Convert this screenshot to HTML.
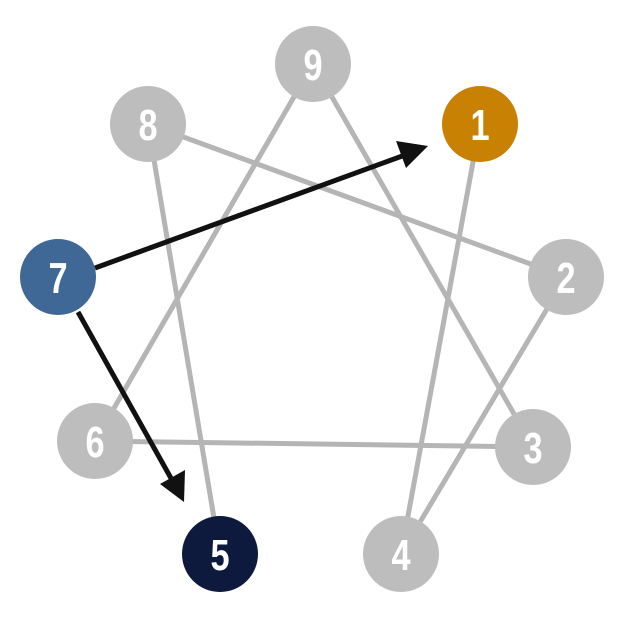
<!DOCTYPE html>
<html><head><meta charset="utf-8"><style>
html,body{margin:0;padding:0;background:#fff;}
svg{display:block}
text{font-family:"Liberation Sans",sans-serif;font-weight:bold;fill:#fff;font-size:44px;text-anchor:middle;transform-box:fill-box;transform-origin:center;transform:scaleX(0.78);}
</style></head><body>
<svg width="625" height="625" viewBox="0 0 625 625">
<g stroke="#b5b5b5" stroke-width="5" fill="none">
<line x1="480" y1="124" x2="401" y2="554"/>
<line x1="401" y1="554" x2="566" y2="277"/>
<line x1="566" y1="277" x2="148" y2="124"/>
<line x1="148" y1="124" x2="220" y2="554"/>
<line x1="313" y1="64" x2="533" y2="447"/>
<line x1="533" y1="447" x2="95" y2="441"/>
<line x1="95" y1="441" x2="313" y2="64"/>
</g>
<g fill="#bdbdbd">
<circle cx="313" cy="64" r="38"/>
<circle cx="148" cy="124" r="38"/>
<circle cx="566" cy="277" r="38"/>
<circle cx="533" cy="447" r="38"/>
<circle cx="95" cy="441" r="38"/>
<circle cx="401" cy="554" r="38"/>
</g>
<circle cx="480" cy="124" r="38" fill="#c88103"/>
<circle cx="58" cy="277" r="38" fill="#3f6896"/>
<circle cx="220" cy="554" r="38" fill="#0d1a3d"/>
<g stroke="#111" stroke-width="5">
<line x1="95" y1="268" x2="405" y2="155"/>
<line x1="78" y1="312" x2="172" y2="480"/>
</g>
<polygon points="428,146 396,141 406,168" fill="#111"/>
<polygon points="184,502 160,484 185,470" fill="#111"/>
<text x="313" y="80">9</text>
<text x="148" y="140">8</text>
<text x="480" y="140">1</text>
<text x="566" y="293">2</text>
<text x="58" y="293">7</text>
<text x="533" y="463">3</text>
<text x="95" y="457">6</text>
<text x="401" y="570">4</text>
<text x="220" y="570">5</text>
</svg>
</body></html>
